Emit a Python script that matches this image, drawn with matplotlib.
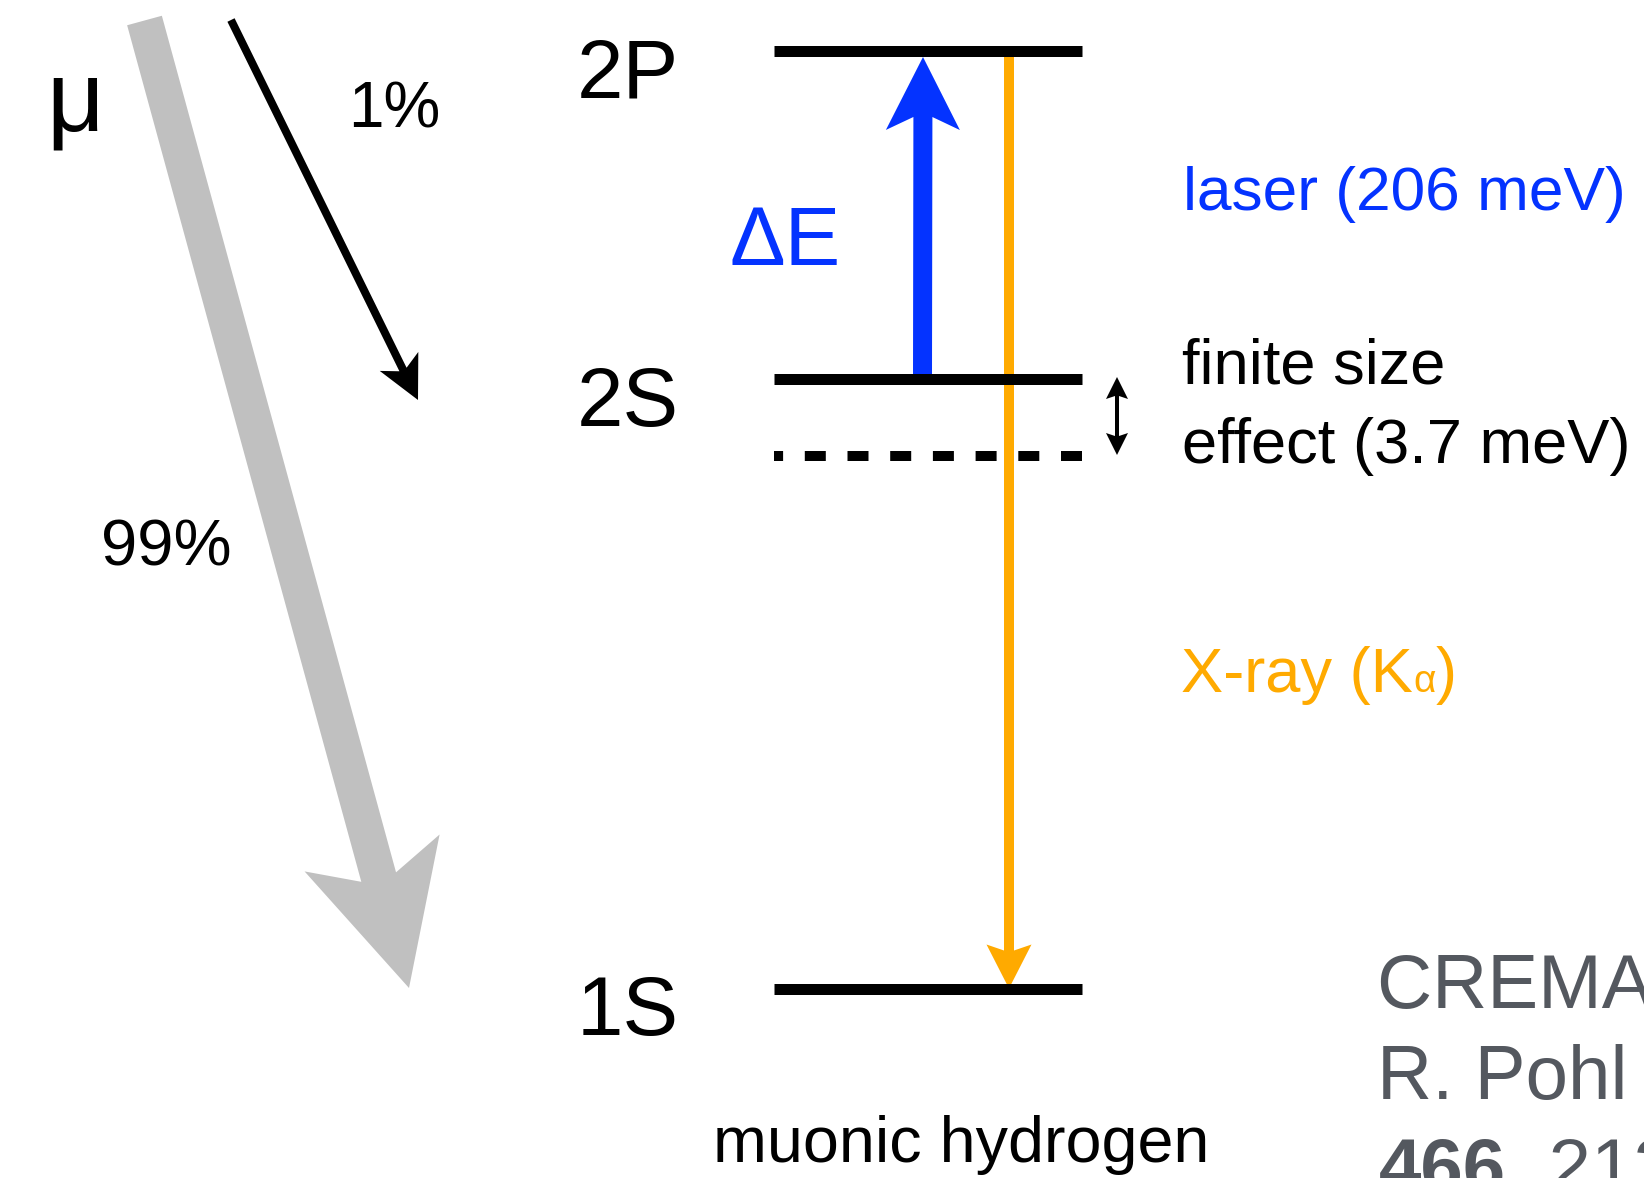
import matplotlib
matplotlib.use("Agg")
import matplotlib.pyplot as plt
from matplotlib.patches import Polygon
import numpy as np

plt.rcParams['font.family'] = ['Liberation Sans', 'DejaVu Sans']
plt.rcParams['lines.scale_dashes'] = False

W, H = 1644, 1178

# ---- diagram data (positions in the diagram's pixel frame) ----
level_names = ['2P', '2S', '1S']
level_y = [50.5, 379.0, 988.5]
shifted_2S_y = 456.0          # 2S without finite size effect (dashed)
level_x = [774, 1082]
label_right_x = 679
label_baseline_offset = 47

laser_label = 'laser (206 meV)'
finite_label = ['finite size', 'effect (3.7 meV)']
xray_label = ['X-ray (K', 'α', ')']
delta_label = 'ΔE'
mu_label = 'μ'
branch_labels = ['1%', '99%']
bottom_label = 'muonic hydrogen'
ref_lines = ['CREMA Collaboration', 'R. Pohl et al., Nature']
ref_bold = '466'
ref_rest = ', 213 (2010)'

BLUE = '#0433ff'
ORANGE = '#ffaa00'
GREY = '#c0c0c0'
REFGREY = '#54585f'

fig = plt.figure(figsize=(W / 100, H / 100), dpi=100)
ax = fig.add_axes([0, 0, 1, 1])
ax.set_xlim(0, W)
ax.set_ylim(H, 0)
ax.axis('off')

PX = 72 / 100  # points per pixel


def arrow_poly(tail, tip, shaft_w, head_w, head_len, notch=0.0):
    tail = np.asarray(tail, float)
    tip = np.asarray(tip, float)
    d = tip - tail
    L = np.hypot(*d)
    u = d / L
    n = np.array([-u[1], u[0]])
    base = tip - u * head_len
    join = base + u * notch
    pts = [tail + n * shaft_w / 2,
           join + n * shaft_w / 2,
           base + n * head_w / 2,
           tip,
           base - n * head_w / 2,
           join - n * shaft_w / 2,
           tail - n * shaft_w / 2]
    return pts


# ---- energy levels ----
for name, y in zip(level_names, level_y):
    ax.plot(level_x, [y, y], color='black', lw=11 * PX, solid_capstyle='butt')
    ax.text(label_right_x, y + label_baseline_offset, name, ha='right',
            va='baseline', fontsize=60, color='black')

# dashed level (drawn right to left so the pattern starts at the right end)
ax.plot(level_x[::-1], [shifted_2S_y, shifted_2S_y], color='black',
        lw=10 * PX, dashes=(21 * PX, 21.7 * PX), dash_capstyle='butt')

# ---- laser arrow (2S -> 2P) ----
ax.add_patch(Polygon(arrow_poly((922.5, level_y[1]), (923, 57), 19, 74, 73, 13),
                     closed=True, color=BLUE, lw=0))
ax.text(729, 265, delta_label, color=BLUE, fontsize=60, va='baseline')

# ---- X-ray arrow (2P -> 1S) ----
ax.add_patch(Polygon(arrow_poly((1009, 57), (1009, level_y[2]), 10, 45, 44, 6),
                     closed=True, color=ORANGE, lw=0))

# ---- finite size double arrow ----
fx = 1117
ax.add_patch(Polygon(arrow_poly((fx, 416), (fx, 377), 4, 22, 22, 3),
                     closed=True, color='black', lw=0))
ax.add_patch(Polygon(arrow_poly((fx, 416), (fx, 455), 4, 22, 22, 3),
                     closed=True, color='black', lw=0))

# ---- muon capture arrows ----
ax.add_patch(Polygon(arrow_poly((144.5, 20.5), (409, 988), 36, 140, 140, 25),
                     closed=True, color=GREY, lw=0))
ax.add_patch(Polygon(arrow_poly((231, 20), (418, 400), 8, 43, 43, 9),
                     closed=True, color='black', lw=0))

ax.text(46, 131, mu_label, fontsize=72, va='baseline')
ax.text(348, 128, branch_labels[0], fontsize=46, va='baseline')
ax.text(101, 565, branch_labels[1], fontsize=47, va='baseline')

# ---- right-hand labels ----
ax.text(1183, 210, laser_label, color=BLUE, fontsize=44.8, va='baseline')
ax.text(1182, 383, finite_label[0], color='black', fontsize=45.5, va='baseline')
ax.text(1182, 463, finite_label[1], color='black', fontsize=45.5, va='baseline')

fig.canvas.draw()
inv = ax.transData.inverted()


def chain(x, y, parts, sizes, colors, weights):
    for s, fs, c, w in zip(parts, sizes, colors, weights):
        t = ax.text(x, y, s, fontsize=fs, color=c, fontweight=w, va='baseline')
        fig.canvas.draw()
        bb = t.get_window_extent()
        x = inv.transform((bb.x1, bb.y0))[0]


chain(1181, 692, xray_label, [45.5, 28, 45.5], [ORANGE] * 3, ['normal'] * 3)

ax.text(713, 1162, bottom_label, fontsize=46.5, va='baseline')

ax.text(1377, 1008, ref_lines[0], fontsize=55, color=REFGREY, va='baseline')
ax.text(1377, 1098, ref_lines[1], fontsize=55, color=REFGREY, va='baseline')
chain(1379, 1192, [ref_bold, ref_rest], [55, 55], [REFGREY] * 2, ['bold', 'normal'])

fig.savefig('out.png', dpi=100)
